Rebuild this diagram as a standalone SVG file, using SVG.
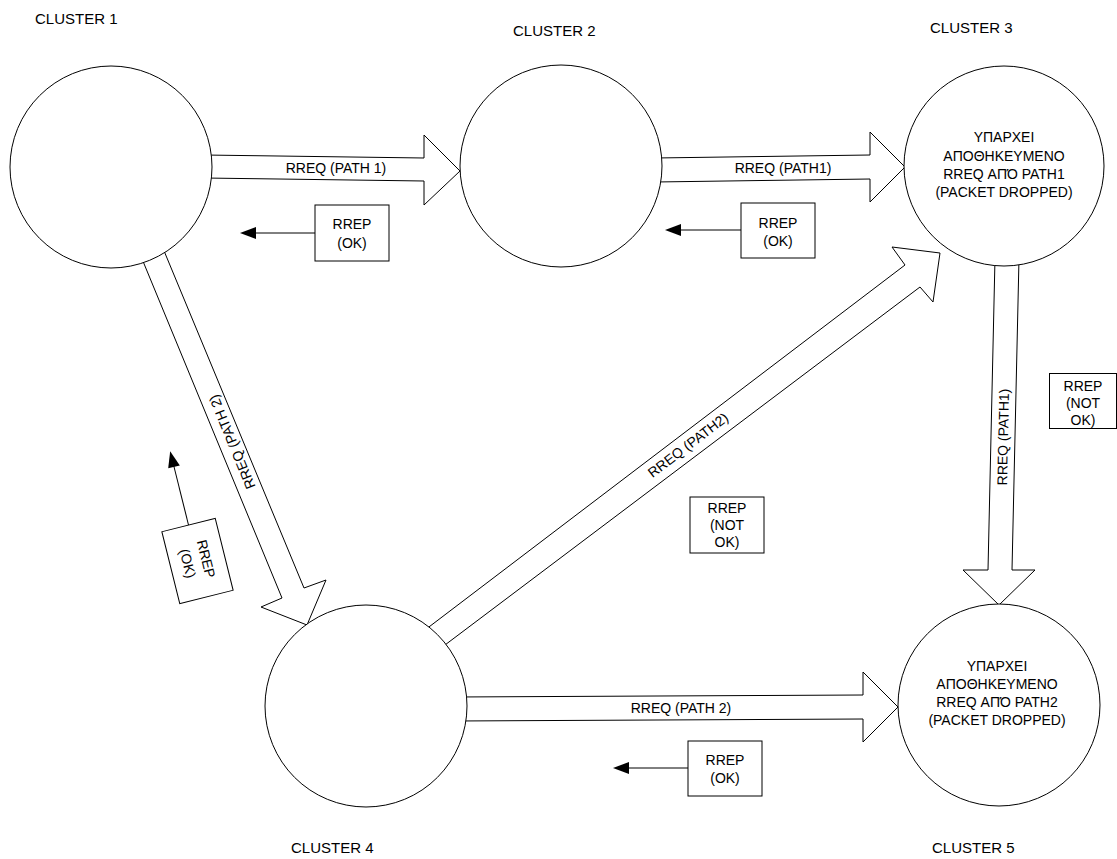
<svg xmlns="http://www.w3.org/2000/svg" width="1117" height="859" viewBox="0 0 1117 859">
<defs>
<style>
.bg{fill:#ffffff}
.shape{fill:#ffffff;stroke:#000000;stroke-width:1}
.line{fill:none;stroke:#000000;stroke-width:1}
.head{fill:#000000;stroke:none}
text{font-family:"Liberation Sans",Arial,sans-serif;fill:#000000}
.lbl{font-size:14px;text-anchor:middle}
.cl{font-size:15px}
</style>
</defs>
<rect class="bg" x="0" y="0" width="1117" height="859"/>

<g id="connectors">
  <g id="c1-c2">
    <polygon class="shape" points="204,155 424,158 424,135 460,171 424,205 424,181 204,178"/>
    <text class="lbl" x="336" y="173">RREQ (PATH 1)</text>
  </g>
  <g id="c2-c3">
    <polygon class="shape" points="655,158 870,155 870,132 905,167 870,202 870,179 655,182"/>
    <text class="lbl" x="783" y="173">RREQ (PATH1)</text>
  </g>
  <g id="c1-c4">
    <polygon class="shape" points="140,254 282,598 261,607 307,625 326,580 304,588 162,246"/>
    <text class="lbl" transform="translate(232,442) rotate(-112.4)" x="0" y="5">RREQ (PATH 2)</text>
  </g>
  <g id="c4-c3">
    <polygon class="shape" points="421,633 905,265 892,247 940,253 933,302 920,287 437,651"/>
    <text class="lbl" transform="translate(688,445) rotate(-37.3)" x="0" y="5">RREQ (PATH2)</text>
  </g>
  <g id="c3-c5">
    <polygon class="shape" points="995,258 988,570 963,570 999,605 1035,570 1012,570 1019,258"/>
    <text class="lbl" transform="translate(1003,437) rotate(-88.7)" x="0" y="5">RREQ (PATH1)</text>
  </g>
  <g id="c4-c5">
    <polygon class="shape" points="455,697 863,695 863,672 898,707 863,742 863,719 455,721"/>
    <text class="lbl" x="681" y="713">RREQ (PATH 2)</text>
  </g>
</g>

<g id="cluster1">
  <circle class="shape" cx="111" cy="167" r="101"/>
  <text class="cl" x="35" y="24">CLUSTER 1</text>
</g>
<g id="cluster2">
  <circle class="shape" cx="561" cy="166" r="101"/>
  <text class="cl" x="513" y="36">CLUSTER 2</text>
</g>
<g id="cluster3">
  <circle class="shape" cx="1004" cy="166" r="100"/>
  <text class="cl" x="930" y="33">CLUSTER 3</text>
  <text class="lbl" x="1004" y="142">ΥΠΑΡΧΕΙ</text>
  <text class="lbl" x="1004" y="161">ΑΠΟΘΗΚΕΥΜΕΝΟ</text>
  <text class="lbl" x="1004" y="179">RREQ ΑΠΌ PATH1</text>
  <text class="lbl" x="1004" y="197">(PACKET DROPPED)</text>
</g>
<g id="cluster4">
  <circle class="shape" cx="366" cy="706" r="101"/>
  <text class="cl" x="291" y="853">CLUSTER 4</text>
</g>
<g id="cluster5">
  <circle class="shape" cx="999" cy="705" r="101"/>
  <text class="cl" x="932" y="853">CLUSTER 5</text>
  <text class="lbl" x="997" y="671">ΥΠΑΡΧΕΙ</text>
  <text class="lbl" x="997" y="689">ΑΠΟΘΗΚΕΥΜΕΝΟ</text>
  <text class="lbl" x="997" y="707">RREQ ΑΠΌ PATH2</text>
  <text class="lbl" x="997" y="725">(PACKET DROPPED)</text>
</g>

<g id="rrep1">
  <line class="line" x1="315" y1="233" x2="254" y2="233"/>
  <polygon class="head" points="240,233 256,227 256,239"/>
  <rect class="shape" x="315" y="205" width="74" height="56"/>
  <text class="lbl" x="352" y="229">RREP</text>
  <text class="lbl" x="352" y="248">(OK)</text>
</g>
<g id="rrep2">
  <line class="line" x1="741" y1="230" x2="679" y2="230"/>
  <polygon class="head" points="665,230 681,224 681,236"/>
  <rect class="shape" x="741" y="203" width="74" height="55"/>
  <text class="lbl" x="778" y="228">RREP</text>
  <text class="lbl" x="778" y="246">(OK)</text>
</g>
<g id="rrep3">
  <rect class="shape" x="1049.5" y="373.5" width="67" height="55"/>
  <text class="lbl" x="1083" y="391">RREP</text>
  <text class="lbl" x="1083" y="408">(NOT</text>
  <text class="lbl" x="1083" y="425">OK)</text>
</g>
<g id="rrep4">
  <rect class="shape" x="690" y="497" width="74" height="56"/>
  <text class="lbl" x="727" y="513">RREP</text>
  <text class="lbl" x="727" y="530">(NOT</text>
  <text class="lbl" x="727" y="547">OK)</text>
</g>
<g id="rrep5">
  <line class="line" x1="688" y1="768" x2="627" y2="768"/>
  <polygon class="head" points="613,768 629,762 629,774"/>
  <rect class="shape" x="688" y="741" width="74" height="55"/>
  <text class="lbl" x="725" y="765">RREP</text>
  <text class="lbl" x="725" y="783">(OK)</text>
</g>
<g id="rrep6" transform="translate(197.5,561) rotate(76)">
  <line class="line" x1="-37" y1="0" x2="-98" y2="0"/>
  <polygon class="head" points="-113,0 -97,-6 -97,6"/>
  <rect class="shape" x="-37" y="-27.5" width="74" height="55"/>
  <text class="lbl" x="0" y="-4">RREP</text>
  <text class="lbl" x="0" y="15">(OK)</text>
</g>
</svg>
